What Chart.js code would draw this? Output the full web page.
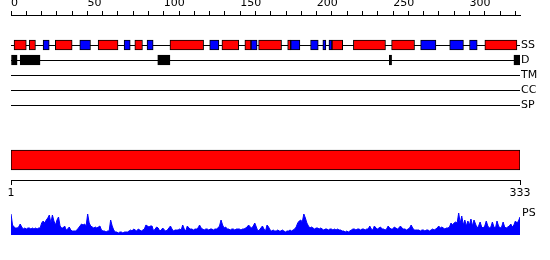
<!DOCTYPE html>
<html>
<head>
<meta charset="utf-8">
<script src="https://cdn.jsdelivr.net/npm/chart.js@4.4.0/dist/chart.umd.min.js"></script>
<style>
    body { margin: 0; background: #fff; }
    #wrap { position: relative; width: 550px; height: 260px; overflow: hidden; }
    #wrap canvas { position: absolute; left: 0; }
</style>
</head>
<body>
<div id="wrap">
    <canvas id="trackChart" width="550" height="120" style="top:0px"></canvas>
    <canvas id="domainChart" width="550" height="65" style="top:140px"></canvas>
    <canvas id="psChart" width="550" height="60" style="top:200px"></canvas>
</div>
<script>
//du lieu
var seqLength = 333;
var trackLabels = ['SS', 'D', 'TM', 'CC', 'SP'];

//SS: helix (do) va strand (xanh), [dau, cuoi]
var helixSegments = [[2, 10], [12, 16], [29, 40], [57, 70], [81, 86], [104, 126], [138, 149],
    [153, 157], [162, 177], [181, 183], [210, 217], [224, 245], [249, 264], [310, 331]];
var strandSegments = [[21, 25], [45, 52], [74, 78], [89, 93], [130, 136], [157, 161], [183, 189],
    [196, 201], [204, 206], [208, 210], [268, 278], [287, 296], [300, 305]];
//D: vung disorder
var disorderSegments = [[0, 4], [6, 19], [96, 104], [247.5, 249], [329, 333]];
//TM, CC, SP: khong co doan nao
var tmSegments = [];
var ccSegments = [];
var spSegments = [];

var domainSegments = [[1, 333]];
var domainTicks = [1, 333];

//PS theo tung vi tri 1..333
var psValues = [
    21, 10, 8, 7, 7, 8, 11, 8, 6, 7,
    6, 7, 7, 6, 7, 6, 7, 6, 7, 7,
    12, 14, 12, 15, 17, 20, 12, 20, 14, 10,
    15, 18, 9, 7, 7, 9, 5, 6, 8, 5,
    4, 4, 4, 5, 7, 9, 11, 10, 11, 9,
    21, 12, 9, 8, 7, 8, 7, 8, 9, 5,
    4, 4, 3, 4, 4, 15, 9, 5, 3, 3,
    2, 3, 3, 2, 3, 3, 3, 4, 5, 4,
    6, 5, 4, 6, 5, 4, 5, 6, 10, 9,
    8, 9, 9, 4, 6, 8, 7, 4, 5, 7,
    5, 4, 5, 7, 9, 6, 4, 5, 5, 5,
    6, 5, 10, 6, 4, 9, 7, 6, 6, 5,
    6, 6, 7, 10, 7, 6, 5, 6, 6, 5,
    6, 6, 5, 6, 6, 7, 9, 15, 10, 7,
    8, 6, 6, 5, 6, 6, 5, 6, 6, 6,
    5, 6, 6, 7, 8, 10, 8, 7, 9, 12,
    8, 4, 5, 7, 9, 6, 4, 10, 8, 5,
    4, 5, 4, 4, 5, 4, 4, 5, 4, 3,
    4, 4, 5, 4, 5, 6, 8, 12, 14, 15,
    13, 21, 17, 12, 9, 7, 8, 7, 6, 7,
    7, 6, 7, 6, 5, 6, 6, 5, 6, 6,
    5, 6, 5, 6, 5, 5, 4, 4, 3, 4,
    3, 4, 5, 6, 6, 5, 6, 6, 5, 6,
    6, 5, 6, 6, 9, 6, 5, 9, 7, 6,
    7, 8, 6, 6, 5, 6, 9, 7, 6, 6,
    8, 7, 6, 7, 9, 7, 6, 6, 5, 6,
    7, 10, 7, 5, 5, 5, 5, 4, 5, 5,
    4, 5, 5, 4, 5, 6, 5, 6, 7, 9,
    7, 8, 7, 6, 7, 7, 8, 12, 10, 12,
    13, 12, 22, 12, 19, 10, 15, 9, 14, 10,
    16, 9, 15, 11, 7, 9, 13, 8, 7, 9,
    14, 9, 7, 8, 13, 8, 7, 14, 9, 7,
    8, 13, 8, 7, 8, 9, 11, 8, 10, 14,
    12, 14, 18
];
var psMax = 22;

var labelFont = { family: 'DejaVu Sans', size: 11 };

function toBars(segs, track) {
    return segs.map(function (s) { return { x: s, y: track }; });
}

//chart tren: SS, D, TM, CC, SP
function InitTrackChart() {
    var ctx = document.getElementById('trackChart');
    var trackData = {
        labels: ['', ''].concat(trackLabels),
        datasets: [
            { label: 'Helix', data: toBars(helixSegments, 'SS'), backgroundColor: '#ff0000' },
            { label: 'Strand', data: toBars(strandSegments, 'SS'), backgroundColor: '#0000ff' },
            { label: 'Disorder', data: toBars(disorderSegments, 'D'), backgroundColor: '#000000' },
            { label: 'TM', data: toBars(tmSegments, 'TM'), backgroundColor: '#000000' },
            { label: 'CC', data: toBars(ccSegments, 'CC'), backgroundColor: '#000000' },
            { label: 'SP', data: toBars(spSegments, 'SP'), backgroundColor: '#000000' }
        ]
    };
    new Chart(ctx, {
        type: 'bar',
        data: trackData,
        options: {
            indexAxis: 'y',
            responsive: false,
            animation: false,
            devicePixelRatio: 1,
            layout: { padding: { left: 11, right: 0, top: 0, bottom: 15 } },
            plugins: { legend: { display: false }, tooltip: { enabled: false } },
            datasets: {
                bar: { grouped: false, barThickness: 10, borderColor: '#000', borderWidth: 1, borderSkipped: false }
            },
            scales: {
                x: {
                    type: 'linear', position: 'top', min: 0, max: seqLength,
                    ticks: {
                        stepSize: 10, includeBounds: false, autoSkip: false, maxRotation: 0,
                        align: 'start', padding: 1, color: '#000', font: labelFont,
                        callback: function (v) { return v % 50 === 0 ? v : ''; }
                    },
                    grid: { drawOnChartArea: false, tickLength: 4, color: '#000' },
                    border: { color: '#000' },
                    afterFit: function (s) { s.height = 15; }
                },
                y: {
                    type: 'category', position: 'right', offset: false,
                    grid: {
                        offset: false, drawTicks: false,
                        color: function (c) { return c.index >= 2 ? '#000' : 'rgba(0,0,0,0)'; }
                    },
                    border: { display: false },
                    ticks: { autoSkip: false, padding: 1, color: '#000', font: labelFont },
                    afterFit: function (s) { s.width = 30; }
                }
            }
        }
    });
}

//thanh domain do + truc 1..333
function InitDomainChart() {
    var ctx = document.getElementById('domainChart');
    new Chart(ctx, {
        type: 'bar',
        data: {
            labels: ['domain'],
            datasets: [{
                label: 'Domain',
                data: toBars(domainSegments, 'domain'),
                backgroundColor: '#ff0000',
                borderColor: '#000',
                borderWidth: 1,
                borderSkipped: false,
                barThickness: 20
            }]
        },
        options: {
            indexAxis: 'y',
            responsive: false,
            animation: false,
            devicePixelRatio: 1,
            layout: { padding: { left: 11, right: 30, top: 0, bottom: 0 } },
            plugins: { legend: { display: false }, tooltip: { enabled: false } },
            scales: {
                x: {
                    type: 'linear', position: 'bottom', min: 1, max: seqLength,
                    afterBuildTicks: function (s) {
                        s.ticks = domainTicks.map(function (v) { return { value: v }; });
                    },
                    ticks: { autoSkip: false, maxRotation: 0, padding: 2, color: '#000', font: labelFont },
                    grid: { drawOnChartArea: false, tickLength: 5, color: '#000' },
                    border: { color: '#000' },
                    afterFit: function (s) { s.height = 25; }
                },
                y: { display: false }
            }
        }
    });
}

//PS
function InitPsChart() {
    var ctx = document.getElementById('psChart');
    var points = psValues.map(function (v, i) { return { x: i + 1, y: v }; });
    new Chart(ctx, {
        type: 'line',
        data: {
            datasets: [{
                label: 'PS',
                data: points,
                borderColor: '#0000ff',
                backgroundColor: '#0000ff',
                borderWidth: 1,
                pointRadius: 0,
                tension: 0,
                fill: 'origin'
            }]
        },
        options: {
            responsive: false,
            animation: false,
            devicePixelRatio: 1,
            layout: { padding: { left: 11, right: 0, top: 13, bottom: 25 } },
            plugins: { legend: { display: false }, tooltip: { enabled: false } },
            scales: {
                x: { type: 'linear', display: false, min: 1, max: seqLength },
                y: {
                    position: 'right', min: 0, max: psMax,
                    afterBuildTicks: function (s) { s.ticks = [{ value: psMax }]; },
                    ticks: { padding: 2, color: '#000', font: labelFont, callback: function () { return 'PS'; } },
                    grid: { display: false, drawTicks: false },
                    border: { display: false },
                    afterFit: function (s) { s.width = 30; }
                }
            }
        }
    });
}

InitTrackChart();
InitDomainChart();
InitPsChart();
</script>
</body>
</html>
